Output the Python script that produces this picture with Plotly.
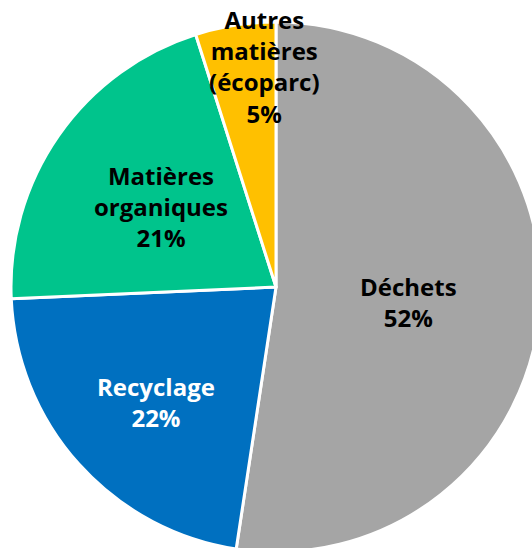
import math
import plotly.graph_objects as go

labels = ["Déchets", "Recyclage", "Matières<br>organiques", "Autres<br>matières<br>(écoparc)"]
values = [52.4, 21.9, 20.8, 4.9]
pct_labels = ["52%", "22%", "21%", "5%"]
colors = ["#A5A5A5", "#0070C0", "#00C48C", "#FFC000"]
text_colors = ["#000000", "#FFFFFF", "#000000", "#000000"]

# layout geometry (pixels, page coordinates)
W, H = 546, 556
CX, CY, R = 276, 287, 265
label_radius = [0.50, 0.62, 0.53, 0.83]
label_xshift = [0, 2, 0, 22]
label_yshift = [-5, -5, 0, 3]

fig = go.Figure(go.Pie(
    labels=labels,
    values=values,
    sort=False,
    direction="clockwise",
    rotation=0,
    textinfo="none",
    hoverinfo="skip",
    marker=dict(colors=colors, line=dict(color="#FFFFFF", width=3)),
    domain=dict(x=[(CX - R) / W, (CX + R) / W], y=[(H - CY - R) / H, (H - CY + R) / H]),
    showlegend=False,
))

total = sum(values)
cum = 0
annotations = []
for i, v in enumerate(values):
    mid = (cum + v / 2) / total * 2 * math.pi
    cum += v
    d = label_radius[i] * R
    px = CX + d * math.sin(mid)
    py = CY - d * math.cos(mid)
    annotations.append(dict(
        x=px / W, y=1 - py / H, xref="paper", yref="paper",
        xanchor="center", yanchor="middle",
        text=f"<b>{labels[i]}<br>{pct_labels[i]}</b>",
        showarrow=False, xshift=label_xshift[i], yshift=label_yshift[i],
        font=dict(family="Open Sans", size=24, color=text_colors[i]),
        align="center",
    ))

fig.update_layout(
    width=W, height=H,
    margin=dict(l=0, r=0, t=0, b=0),
    paper_bgcolor="#FFFFFF",
    plot_bgcolor="#FFFFFF",
    annotations=annotations,
)

fig.write_html(
    "out.html",
    config={"displayModeBar": False},
    post_script="document.body.style.margin='0';document.body.style.overflow='hidden';"
                "document.documentElement.style.overflow='hidden';",
)
